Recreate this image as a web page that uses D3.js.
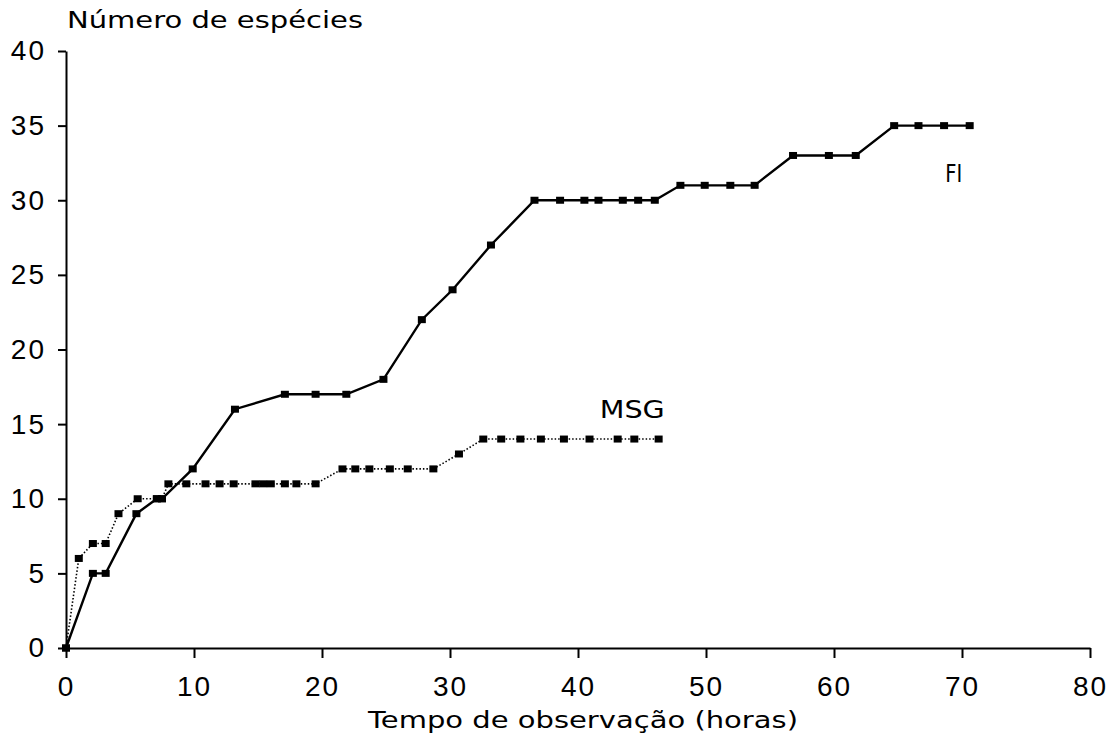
<!DOCTYPE html>
<html>
<head>
<meta charset="utf-8">
<script src="https://cdn.jsdelivr.net/npm/d3@7"></script>
<style>
  body { margin: 0; background: #fff; }
  svg { display: block; font-family: "DejaVu Sans", sans-serif; }
  .axis path, .axis line { stroke: #000; stroke-width: 2; }
  .axis text { font-size: 28px; fill: #000; letter-spacing: 2px; }
</style>
</head>
<body>
<svg id="chart" width="1115" height="743"></svg>
<script>
// Curvas de acumulação de espécies — FI e MSG
const fiHours = [0, 2.1, 3.1, 5.5, 7.1, 7.5, 9.9, 13.2, 17.1, 19.5, 21.9, 24.8, 27.8, 30.2, 33.2,
  36.6, 38.6, 40.5, 41.6, 43.5, 44.7, 46.0, 48.0, 49.9, 51.9, 53.8, 56.8, 59.6, 61.7,
  64.7, 66.6, 68.6, 70.6];
const fiSpecies = [0, 5, 5, 9, 10, 10, 12, 16, 17, 17, 17, 18, 22, 24, 27,
  30, 30, 30, 30, 30, 30, 30, 31, 31, 31, 31, 33, 33, 33,
  35, 35, 35, 35];

const msgHours = [0, 1.0, 2.1, 3.1, 4.1, 5.6, 7.1, 7.5, 8.0, 9.4, 10.9, 12.0, 13.1, 14.8, 15.4,
  16.0, 17.1, 18.0, 19.5, 21.6, 22.6, 23.7, 25.3, 26.7, 28.7, 30.7, 32.6, 34.0, 35.5,
  37.1, 38.9, 40.9, 43.1, 44.4, 46.3];
const msgSpecies = [0, 6, 7, 7, 9, 10, 10, 10, 11, 11, 11, 11, 11, 11, 11,
  11, 11, 11, 11, 12, 12, 12, 12, 12, 12, 13, 14, 14, 14,
  14, 14, 14, 14, 14, 14];

const xTicks = [0, 10, 20, 30, 40, 50, 60, 70, 80];
const yTicks = [0, 5, 10, 15, 20, 25, 30, 35, 40];

const svg = d3.select('#chart');
const x = d3.scaleLinear().domain([0, 80]).range([66, 1090]);
const y = d3.scaleLinear().domain([0, 40]).range([648, 51]);

// eixos
svg.append('g').attr('class', 'axis')
  .attr('transform', 'translate(0,648)')
  .call(d3.axisBottom(x).tickValues(xTicks).tickSize(10).tickSizeOuter(0).tickPadding(18));
svg.append('g').attr('class', 'axis')
  .attr('transform', 'translate(66,0)')
  .call(d3.axisLeft(y).tickValues(yTicks).tickSize(8).tickSizeOuter(0).tickPadding(12));

const line = d3.line().x(d => x(d[0])).y(d => y(d[1]));
const fi = d3.zip(fiHours, fiSpecies);
const msg = d3.zip(msgHours, msgSpecies);

svg.append('path').datum(msg)
  .attr('d', line).attr('fill', 'none').attr('stroke', '#000')
  .attr('stroke-width', 1.6).attr('stroke-dasharray', '1.5,2');
svg.append('path').datum(fi)
  .attr('d', line).attr('fill', 'none').attr('stroke', '#000')
  .attr('stroke-width', 2.4);

const square = (data) => svg.append('g').selectAll('rect')
  .data(data).join('rect')
  .attr('x', d => x(d[0]) - 4).attr('y', d => y(d[1]) - 3.5)
  .attr('width', 8).attr('height', 7).attr('fill', '#000');
square(msg);
square(fi);

// textos
svg.append('text').attr('x', 67).attr('y', 28)
  .attr('font-size', 23).attr('textLength', 296).attr('lengthAdjust', 'spacingAndGlyphs')
  .text('Número de espécies');
svg.append('text').attr('x', 368).attr('y', 728)
  .attr('font-size', 23).attr('textLength', 430).attr('lengthAdjust', 'spacingAndGlyphs')
  .text('Tempo de observação (horas)');
svg.append('text').attr('x', x(68.7)).attr('y', y(31.2))
  .attr('font-size', 24).attr('textLength', 17).attr('lengthAdjust', 'spacingAndGlyphs')
  .text('FI');
svg.append('text').attr('x', x(41.7)).attr('y', y(15.4))
  .attr('font-size', 24).attr('textLength', 65).attr('lengthAdjust', 'spacingAndGlyphs')
  .text('MSG');
</script>
</body>
</html>
